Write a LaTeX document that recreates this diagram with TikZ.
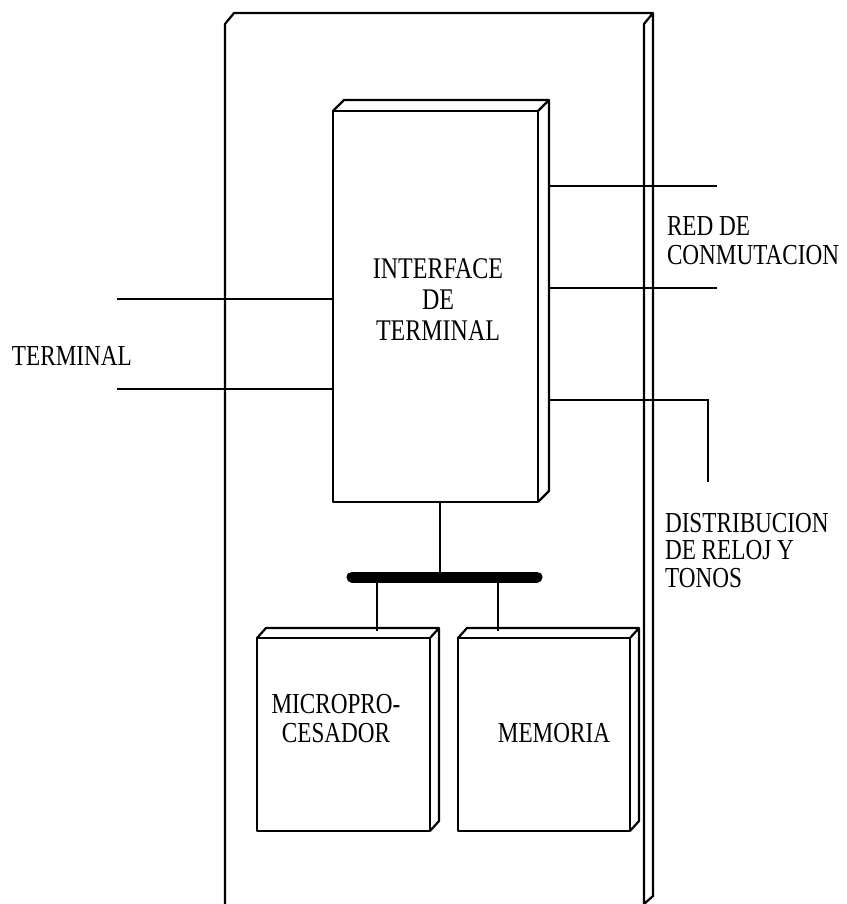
\documentclass[tikz,border=0pt]{standalone}
\usepackage{fontspec}
\setmainfont{Liberation Serif}
\newfontfamily\lblfont[FakeStretch=0.8]{Liberation Serif}
\usetikzlibrary{calc}
\newcommand\depthfaces[3]{%
  \draw[edge] (#1.north west) -- ++(#2,-#3) -- ([shift={(#2,-#3)}]#1.north east)
    -- ([shift={(#2,-#3)}]#1.south east) -- (#1.south east)
    (#1.north east) -- ++(#2,-#3);}
\begin{document}
\begin{tikzpicture}[x=1pt,y=-1pt,
  edge/.style={line width=2.2pt, line join=round},
  wire/.style={line width=1.6pt},
  face/.style={edge, draw, rectangle, inner sep=0pt, outer sep=0pt, anchor=north west},
  lbl/.style={inner sep=0pt, outer sep=0pt, font=\lblfont\fontsize{29}{29}\selectfont, text=black}]
\useasboundingbox (0,0) rectangle (846,904);
% board
\node[inner sep=0pt, outer sep=0pt, minimum width=419pt, minimum height=880pt, anchor=north west] (board) at (225,24) {};
\draw[edge] (board.south west) -- (board.north west) -- ++(9,-11)
  -- ([shift={(9,-11)}]board.north east) -- ([shift={(9,-8)}]board.south east)
  -- (board.south east) -- (board.north east) -- ++(9,-11);
% interface
\node[face, minimum width=205pt, minimum height=391pt] (iface) at (333,111) {};
\depthfaces{iface}{11}{11}
% micro and memory
\node[face, minimum width=173pt, minimum height=193pt] (micro) at (257,638) {};
\depthfaces{micro}{9}{10}
\node[face, minimum width=172pt, minimum height=193pt] (mem) at (458,638) {};
\depthfaces{mem}{9}{10}
% bus
\coordinate (busL) at (352,577);
\coordinate (busR) at (537,577);
\coordinate (busT) at (440,577);
\coordinate (busM) at (377,577);
\coordinate (busN) at (498,577);
\draw[line width=11pt, line cap=round] (busL) -- (busR);
\draw[wire] (iface.south -| busT) -- (busT);
\draw[wire] (busM) -- ($(busM |- micro.north)+(0,-7)$);
\draw[wire] (busN) -- ($(busN |- mem.north)+(0,-7)$);
% terminal lines
\coordinate (t1) at (117,299);
\coordinate (t2) at (117,389);
\draw[wire] (t1) -- (t1 -| iface.west);
\draw[wire] (t2) -- (t2 -| iface.west);
% red lines
\coordinate (r1) at (717,186);
\coordinate (r2) at (717,288);
\draw[wire] ([xshift=11pt]r1 -| iface.east) -- (r1);
\draw[wire] ([xshift=11pt]r2 -| iface.east) -- (r2);
% distribution line
\coordinate (dc) at (708,400);
\coordinate (d1) at (708,482);
\draw[wire] ([xshift=11pt]dc -| iface.east) -- (dc) -- (d1);
% texts
\node[inner sep=0pt, align=center, font=\lblfont\fontsize{30}{31}\selectfont] (liface) at (438,300) {INTERFACE\\DE\\TERMINAL};
\node[lbl, anchor=base west] (lterm) at (12,365) {TERMINAL};
\node[lbl, anchor=north west, align=left] (lred) at (667,217) {RED DE\\CONMUTACION};
\node[lbl, anchor=north west, align=left, font=\lblfont\fontsize{29}{27.5}\selectfont] (ldist) at (665,513) {DISTRIBUCION\\DE RELOJ Y\\TONOS};
\node[lbl, anchor=north, align=center] (lmicro) at (336,694) {MICROPRO-\\CESADOR};
\node[lbl, anchor=base] (lmem) at (554,742) {MEMORIA};
\end{tikzpicture}
\end{document}
